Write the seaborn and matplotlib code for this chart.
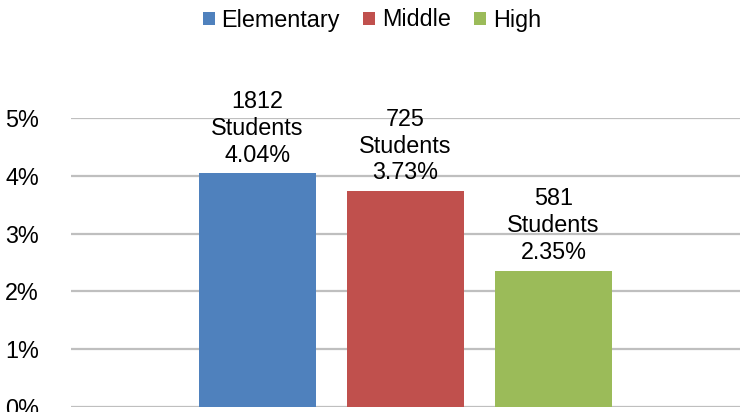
import matplotlib
matplotlib.use("Agg")
import matplotlib.pyplot as plt
from matplotlib.patches import Patch
from matplotlib.ticker import FuncFormatter
import seaborn as sns
import pandas as pd

# --- Data ---
levels = ["Elementary", "Middle", "High"]
rates = [4.04, 3.73, 2.35]          # percent
students = [1812, 725, 581]
colors = ["#4F81BD", "#C0504D", "#9BBB59"]
y_ticks = [0, 1, 2, 3, 4, 5]

df = pd.DataFrame({"level": levels, "rate": rates, "students": students})

sns.set_style("white")
plt.rcParams["font.family"] = ["Liberation Sans", "DejaVu Sans"]
plt.rcParams["text.color"] = "#000000"
FS = 16.8

fig = plt.figure(figsize=(7.44, 4.12), dpi=100)
ax = fig.add_axes([71 / 744, 5 / 412, 669 / 744, 289 / 412])

sns.barplot(data=df, x="level", y="rate", hue="level", palette=colors,
            legend=False, width=0.79, saturation=1, ax=ax,
            edgecolor="none")

ax.set_xlim(-1.26, 3.26)
ax.set_ylim(0, 5)
ax.set_yticks(y_ticks)
ax.yaxis.set_major_formatter(FuncFormatter(lambda v, _: f"{v:.0f}%"))
ax.tick_params(axis="y", length=0, pad=23, labelsize=FS, labelcolor="#000000")
ax.set_xticks([])
ax.set_xlabel("")
ax.set_ylabel("")
ax.grid(axis="y", color="#BFBFBF", linewidth=1.6)
ax.set_axisbelow(True)
for side in ["top", "right", "left", "bottom"]:
    ax.spines[side].set_visible(False)

# value labels above each bar
for i, row in df.iterrows():
    ax.annotate(f"{row['students']}\nStudents\n{row['rate']:.2f}%",
                xy=(i, row["rate"]), xytext=(0, 5), textcoords="offset points",
                ha="center", va="bottom", fontsize=FS, linespacing=1.22,
                color="#000000", clip_on=False)

handles = [Patch(facecolor=c, edgecolor="none") for c in colors]
leg = fig.legend(handles, levels, loc="center", bbox_to_anchor=(372 / 744, 1 - 20 / 412),
                 ncol=3, frameon=False, fontsize=FS, handlelength=0.5, handleheight=0.5,
                 handletextpad=0.3, columnspacing=1.0, borderpad=0, borderaxespad=0)
for t in leg.get_texts():
    t.set_color("#000000")

fig.savefig("out.png", dpi=100)
